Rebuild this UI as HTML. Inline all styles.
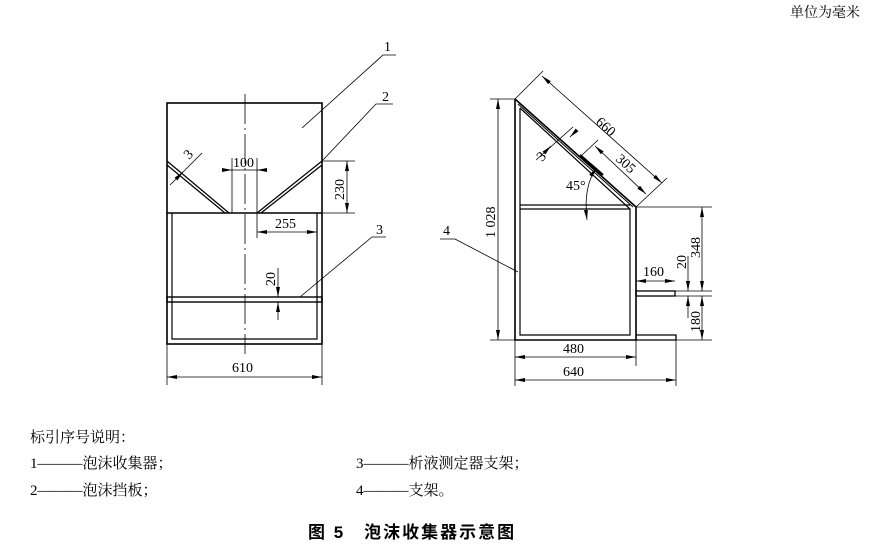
<!DOCTYPE html>
<html><head><meta charset="utf-8"><style>
html,body{margin:0;padding:0;background:#fff;}
svg{display:block;}
text{font-family:"Liberation Serif","Noto Serif CJK SC",serif;fill:#000;}
.cj{font-family:"Liberation Serif","Noto Serif CJK SC","Noto Sans CJK SC",serif;}
</style></head><body>
<svg width="886" height="552" viewBox="0 0 886 552" xmlns="http://www.w3.org/2000/svg">
<defs>
<marker id="a" viewBox="0 0 10 4" refX="10" refY="2" markerWidth="10" markerHeight="4" orient="auto-start-reverse" markerUnits="userSpaceOnUse">
<path d="M0,0 L10,2 L0,4 z" fill="#000"/></marker>
</defs>
<text x="790" y="17" font-size="14" class="cj">单位为毫米</text>

<!-- LEFT VIEW -->
<g stroke="#000" fill="none">
<rect x="167" y="103" width="155" height="241" stroke-width="1.6"/>
<line x1="167" y1="213" x2="322" y2="213" stroke-width="1.6"/>
<polyline points="172,213 172,339 317,339 317,213" stroke-width="1.2"/>
<rect x="167" y="297" width="155" height="5" stroke-width="1.4"/>
<line x1="245" y1="94" x2="245" y2="354" stroke-width="0.8" stroke-dasharray="30,4,2,4"/>
<line x1="167" y1="161" x2="229" y2="213" stroke-width="1.2"/>
<line x1="167" y1="165" x2="225" y2="213" stroke-width="1.2"/>
<line x1="257" y1="213" x2="322" y2="161" stroke-width="1.2"/>
<line x1="261" y1="213" x2="322" y2="165" stroke-width="1.2"/>
<g stroke-width="0.8">
<line x1="232" y1="158" x2="232" y2="213"/><line x1="257" y1="158" x2="257" y2="238"/>
<line x1="222" y1="170" x2="232" y2="170" marker-end="url(#a)"/>
<line x1="267" y1="170" x2="257" y2="170" marker-end="url(#a)"/>
<line x1="232" y1="170" x2="257" y2="170"/>
<line x1="322" y1="161" x2="355" y2="161"/><line x1="322" y1="213" x2="355" y2="213"/>
<line x1="347" y1="161" x2="347" y2="213" marker-start="url(#a)" marker-end="url(#a)"/>
<line x1="257" y1="232" x2="317" y2="232" marker-start="url(#a)" marker-end="url(#a)"/>
<line x1="278" y1="268" x2="278" y2="297" marker-end="url(#a)"/>
<line x1="278" y1="320" x2="278" y2="302" marker-end="url(#a)"/>
<line x1="167" y1="344" x2="167" y2="385"/><line x1="322" y1="344" x2="322" y2="385"/>
<line x1="167" y1="377" x2="322" y2="377" marker-start="url(#a)" marker-end="url(#a)"/>
<line x1="170" y1="185" x2="202" y2="153"/>
<line x1="178" y1="177" x2="183" y2="172" marker-end="url(#a)"/>
<polyline points="302,128 383,55 396,55"/>
<polyline points="322,161 376,104 393,104"/>
<polyline points="300,297 372,237 386,237"/>
</g>
</g>
<text x="233" y="167" font-size="14">100</text>
<text x="0" y="0" font-size="14" transform="translate(344,200) rotate(-90)">230</text>
<text x="275" y="228" font-size="14">255</text>
<text x="0" y="0" font-size="14" transform="translate(275,286) rotate(-90)">20</text>
<text x="232" y="372" font-size="14">610</text>
<text x="0" y="0" font-size="14" transform="translate(189,160) rotate(-45)">3</text>
<text x="384" y="51" font-size="14">1</text>
<text x="382" y="101" font-size="14">2</text>
<text x="376" y="234" font-size="14">3</text>

<!-- RIGHT VIEW -->
<g stroke="#000" fill="none">
<polyline points="515,99 515,340 636,340 636,207 515,99" stroke-width="1.6"/>
<polyline points="520,108 520,335 630,335 630,209 520,108" stroke-width="1.2"/>
<line x1="518" y1="104" x2="633" y2="207" stroke-width="1"/>
<line x1="520" y1="205" x2="630" y2="205" stroke-width="1.2"/>
<line x1="520" y1="209" x2="630" y2="209" stroke-width="1.2"/>
<line x1="580" y1="155" x2="603" y2="175" stroke-width="2.2"/>
<rect x="636" y="291" width="39" height="5" stroke-width="1.3"/>
<polyline points="636,335 676,335 676,340 636,340" stroke-width="1.3"/>
<g stroke-width="0.8">
<line x1="490" y1="99" x2="515" y2="99"/><line x1="490" y1="340" x2="515" y2="340"/>
<line x1="498" y1="99" x2="498" y2="340" marker-start="url(#a)" marker-end="url(#a)"/>
<line x1="515" y1="99" x2="543" y2="71"/><line x1="636" y1="207" x2="667" y2="178"/>
<line x1="542" y1="76" x2="662" y2="183" marker-start="url(#a)" marker-end="url(#a)"/>
<line x1="581" y1="156" x2="598" y2="140"/>
<line x1="595" y1="146" x2="646" y2="194" marker-start="url(#a)" marker-end="url(#a)"/>
<line x1="536" y1="160" x2="573" y2="127"/>
<line x1="546" y1="151" x2="551" y2="146" marker-end="url(#a)"/>
<line x1="575" y1="132" x2="570" y2="137" marker-end="url(#a)"/>
<path d="M597,168 Q583,185 587,220" marker-start="url(#a)" marker-end="url(#a)"/>
<line x1="636" y1="207" x2="712" y2="207"/>
<line x1="675" y1="291" x2="712" y2="291"/><line x1="675" y1="296" x2="712" y2="296"/>
<line x1="676" y1="340" x2="712" y2="340"/>
<line x1="702" y1="207" x2="702" y2="291" marker-start="url(#a)" marker-end="url(#a)"/>
<line x1="702" y1="296" x2="702" y2="340" marker-start="url(#a)" marker-end="url(#a)"/>
<line x1="688" y1="256" x2="688" y2="291" marker-end="url(#a)"/>
<line x1="688" y1="318" x2="688" y2="296" marker-end="url(#a)"/>
<line x1="636" y1="281" x2="675" y2="281" marker-start="url(#a)" marker-end="url(#a)"/>
<line x1="676" y1="340" x2="676" y2="386"/><line x1="636" y1="340" x2="636" y2="366"/>
<line x1="515" y1="340" x2="515" y2="386"/>
<line x1="515" y1="357" x2="636" y2="357" marker-start="url(#a)" marker-end="url(#a)"/>
<line x1="515" y1="380" x2="676" y2="380" marker-start="url(#a)" marker-end="url(#a)"/>
<polyline points="440,239 455,239 518,272"/>
</g>
</g>
<text x="0" y="0" font-size="14" transform="translate(495,238) rotate(-90)">1 028</text>
<text x="0" y="0" font-size="14" transform="translate(595,123) rotate(42)">660</text>
<text x="0" y="0" font-size="14" transform="translate(615,160) rotate(42)">305</text>
<text x="0" y="0" font-size="14" transform="translate(542,162) rotate(-45)">3</text>
<text x="566" y="190" font-size="14">45°</text>
<text x="0" y="0" font-size="14" transform="translate(700,258) rotate(-90)">348</text>
<text x="0" y="0" font-size="14" transform="translate(686,269) rotate(-90)">20</text>
<text x="0" y="0" font-size="14" transform="translate(700,332) rotate(-90)">180</text>
<text x="643" y="276" font-size="14">160</text>
<text x="563" y="353" font-size="14">480</text>
<text x="563" y="376" font-size="14">640</text>
<text x="443" y="235" font-size="14">4</text>

<!-- LEGEND -->
<text x="30" y="442" font-size="15" class="cj">标引序号说明：</text>
<text x="30" y="468" font-size="15" class="cj">1———泡沫收集器；</text>
<text x="30" y="495" font-size="15" class="cj">2———泡沫挡板；</text>
<text x="356" y="468" font-size="15" class="cj">3———析液测定器支架；</text>
<text x="356" y="495" font-size="15" class="cj">4———支架。</text>
<text x="308" y="538" font-size="17" font-weight="bold" letter-spacing="2" style="font-family:'Liberation Sans','Noto Sans CJK SC',sans-serif">图 5　泡沫收集器示意图</text>
</svg>
</body></html>
